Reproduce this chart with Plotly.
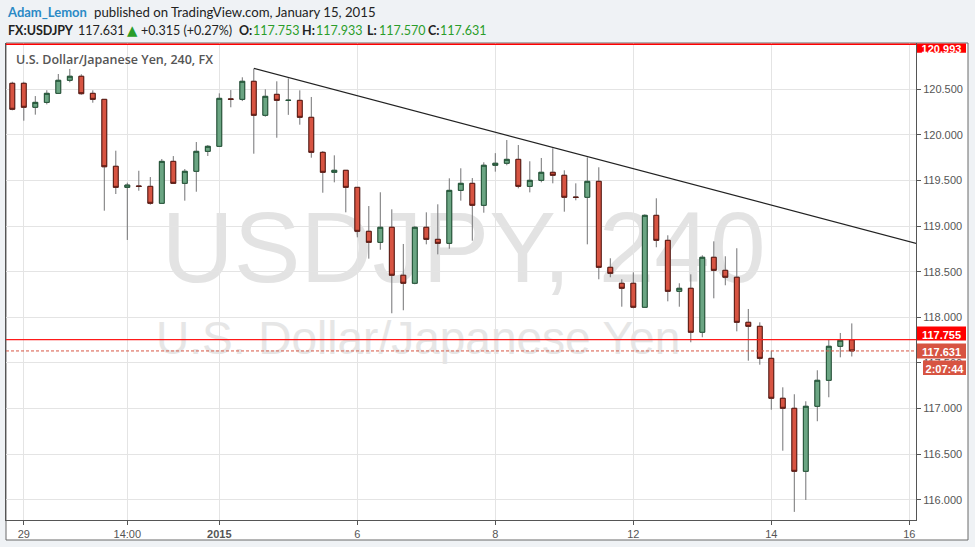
import plotly.graph_objects as go

# ---------------- data ----------------
opens = [120.566, 120.566, 120.303, 120.357, 120.456, 120.599, 120.643, 120.456, 120.390, 119.656,
         119.425, 119.440, 119.436, 119.250, 119.710, 119.469, 119.601, 119.820, 119.875, 120.395,
         120.390, 120.588, 120.215, 120.445, 120.378, 120.379, 120.193, 119.809, 119.590, 119.612,
         119.425, 118.943, 118.822, 118.987, 118.461, 118.373, 118.987, 118.855, 118.811, 119.392,
         119.469, 119.228, 119.667, 119.689, 119.732, 119.436, 119.502, 119.590, 119.557, 119.318,
         119.316, 119.491, 118.548, 118.373, 118.373, 118.110, 119.118, 118.844, 118.285, 118.318,
         117.836, 118.658, 118.515, 118.439, 117.945, 117.901, 117.550, 117.112, 117.002, 116.311,
         117.024, 117.309, 117.682, 117.753]
highs = [120.583, 120.583, 120.426, 120.490, 120.668, 120.723, 120.665, 120.489, 120.390, 119.827,
         119.476, 119.607, 119.538, 119.736, 119.768, 119.626, 119.922, 119.889, 120.456, 120.492,
         120.632, 120.723, 120.500, 120.588, 120.620, 120.489, 120.416, 119.823, 119.776, 119.612,
         119.425, 119.220, 119.371, 119.184, 118.804, 118.998, 119.151, 119.239, 119.524, 119.634,
         119.527, 119.700, 119.800, 119.944, 119.889, 119.711, 119.747, 119.853, 119.612, 119.469,
         119.754, 119.645, 118.647, 118.417, 118.493, 119.129, 119.305, 118.899, 118.373, 118.471,
         118.680, 118.833, 118.669, 118.757, 118.091, 117.945, 117.634, 117.232, 117.156, 117.079,
         117.419, 117.759, 117.828, 117.933]
lows = [120.270, 120.156, 120.222, 120.335, 120.450, 120.577, 120.441, 120.353, 119.169, 119.352,
        118.848, 119.388, 119.235, 119.250, 119.469, 119.279, 119.377, 119.769, 119.875, 120.303,
        120.371, 119.794, 120.200, 119.969, 120.220, 120.112, 119.750, 119.366, 119.480, 119.151,
        118.877, 118.643, 118.741, 118.044, 118.077, 118.362, 118.800, 118.690, 118.752, 119.279,
        118.840, 119.147, 119.597, 119.667, 119.414, 119.370, 119.480, 119.469, 119.158, 119.283,
        118.800, 118.417, 118.439, 118.116, 118.099, 118.110, 118.768, 118.175, 118.116, 117.726,
        117.781, 118.208, 118.351, 117.846, 117.524, 117.480, 116.987, 116.537, 115.866, 115.997,
        116.860, 117.123, 117.561, 117.570]
closes = [120.281, 120.303, 120.357, 120.456, 120.599, 120.643, 120.452, 120.390, 119.651, 119.425,
          119.450, 119.435, 119.250, 119.710, 119.469, 119.601, 119.820, 119.875, 120.401, 120.390,
          120.588, 120.215, 120.423, 120.379, 120.380, 120.193, 119.809, 119.590, 119.612, 119.425,
          118.943, 118.822, 118.987, 118.461, 118.373, 118.987, 118.855, 118.811, 119.392, 119.469,
          119.228, 119.667, 119.689, 119.732, 119.436, 119.502, 119.590, 119.557, 119.316, 119.315,
          119.491, 118.548, 118.482, 118.318, 118.110, 119.118, 118.844, 118.285, 118.318, 117.836,
          118.658, 118.515, 118.439, 117.945, 117.901, 117.550, 117.112, 117.002, 116.311, 117.024,
          117.309, 117.682, 117.748, 117.631]
bar_index = list(range(len(opens)))

tick_positions = [1, 10, 18, 30, 42, 54, 66, 78]
tick_labels = ["29", "14:00", "<b>2015</b>", "6", "8", "12", "14", "16"]
price_ticks = [116.0, 116.5, 117.0, 117.5, 118.0, 118.5, 119.0, 119.5, 120.0, 120.5]

trend_x = [21, 79]
trend_y = [120.730, 118.797]

high_line = 120.993
support_line = 117.755
last_close = 117.631
countdown = "2:07:44"

# ---------------- styling ----------------
UP_FILL, UP_BORDER = "#6ba583", "#225437"
DN_FILL, DN_BORDER = "#d75442", "#5b1a13"
WICK = "#737375"
GRID = "#e4e4e4"
AXIS = "#555555"
BG = "#eff2f5"
GREEN = "#2a9d2a"

W, H = 975, 547
ML, MR, MT, MB = 6, 59, 43, 27


def px(x):
    return (x - ML) / (W - ML - MR)


def py(y):
    return (H - MB - y) / (H - MT - MB)


fig = go.Figure()

body_hi = [max(o, c) for o, c in zip(opens, closes)]
body_lo = [min(o, c) for o, c in zip(opens, closes)]

# wicks
fig.add_trace(go.Candlestick(
    x=bar_index, open=opens, high=highs, low=lows, close=closes,
    increasing=dict(line=dict(color=WICK, width=1), fillcolor=WICK),
    decreasing=dict(line=dict(color=WICK, width=1), fillcolor=WICK),
    whiskerwidth=0, showlegend=False, hoverinfo="skip"))
# bodies
fig.add_trace(go.Candlestick(
    x=bar_index, open=opens, high=body_hi, low=body_lo, close=closes,
    increasing=dict(line=dict(color=UP_BORDER, width=1), fillcolor=UP_FILL),
    decreasing=dict(line=dict(color=DN_BORDER, width=1), fillcolor=DN_FILL),
    whiskerwidth=0, showlegend=False, hoverinfo="skip"))

# trend line
fig.add_trace(go.Scatter(x=trend_x, y=trend_y, mode="lines",
                         line=dict(color="#222222", width=1.2),
                         showlegend=False, hoverinfo="skip"))

shapes = []
# white chart panel
shapes.append(dict(type="rect", xref="paper", yref="paper",
                   x0=px(6), x1=px(968), y0=py(540), y1=py(43),
                   fillcolor="white", line=dict(color="#6b6b6b", width=1), layer="below"))
# watermark
shapes.append(dict(type="rect", xref="paper", yref="paper",
                   x0=px(140), x1=px(787), y0=py(256), y1=py(220),
                   line=dict(width=0), fillcolor="rgba(0,0,0,0)", layer="below",
                   label=dict(text="USDJPY, 240", textposition="middle center",
                              font=dict(size=100, color="#e3e3e3", family="Liberation Sans"))))
shapes.append(dict(type="rect", xref="paper", yref="paper",
                   x0=px(150), x1=px(760), y0=py(348), y1=py(320),
                   line=dict(width=0), fillcolor="rgba(0,0,0,0)", layer="below",
                   label=dict(text="U.S. Dollar/Japanese Yen", textposition="middle left",
                              font=dict(size=46, color="#e6e6e6", family="Liberation Sans"))))
# horizontal price lines
shapes.append(dict(type="line", xref="paper", yref="y", x0=0, x1=1,
                   y0=high_line, y1=high_line, line=dict(color="#ff0000", width=1.5)))
shapes.append(dict(type="line", xref="paper", yref="y", x0=0, x1=1,
                   y0=support_line, y1=support_line, line=dict(color="#ff1a1a", width=1.2)))
shapes.append(dict(type="line", xref="paper", yref="y", x0=0, x1=1,
                   y0=last_close, y1=last_close, line=dict(color="#d75442", width=1, dash="3px,2px")))

# price-axis boxes
lab_font = dict(size=11, color="white", family="Liberation Sans", weight="bold")
shapes.append(dict(type="rect", xref="paper", yref="paper", x0=px(917), x1=px(966),
                   y0=py(52.7), y1=py(43.5), fillcolor="#ff0000", line=dict(width=0),
                   label=dict(text=f"{high_line:.3f}", font=lab_font, textposition="middle center")))
shapes.append(dict(type="rect", xref="paper", yref="paper", x0=px(917), x1=px(966),
                   y0=py(340.5), y1=py(326.5), fillcolor="#ff0000", line=dict(width=0),
                   label=dict(text=f"{support_line:.3f}", font=lab_font, textposition="middle center")))
shapes.append(dict(type="rect", xref="paper", yref="paper", x0=px(917), x1=px(966),
                   y0=py(358.5), y1=py(343.5), fillcolor="#d75442", line=dict(width=0),
                   label=dict(text=f"{last_close:.3f}", font=lab_font, textposition="middle center")))
shapes.append(dict(type="rect", xref="paper", yref="paper", x0=px(923), x1=px(966),
                   y0=py(375), y1=py(360.5), fillcolor="#d75442", line=dict(width=0),
                   label=dict(text=countdown, font=lab_font, textposition="middle center")))

annotations = []


def note(x, y, text, size=14, color="#222222", family="Lato", weight="normal"):
    annotations.append(dict(xref="paper", yref="paper", x=px(x), y=py(y), text=text,
                            showarrow=False, xanchor="left", yanchor="middle",
                            font=dict(size=size, color=color, family=family, weight=weight)))


# header line 1
note(5, 12, "Adam_Lemon", size=13, color="#2b8ac6", weight="bold")
note(92, 12, "published on TradingView.com, January 15, 2015", size=13.2, color="#222222")
# header line 2
note(6, 30, "FX:USDJPY", size=12.5, weight="bold")
note(76, 30, "117.631", size=12.5)
note(125, 30, "▲", size=13.5, color=GREEN, family="DejaVu Sans")
note(139, 30, "+0.315 (+0.27%)", size=12.5)
note(237, 30, "O:", size=12.5, weight="bold")
note(251, 30, "117.753", size=12.5, color=GREEN)
note(300, 30, "H:", size=12.5, weight="bold")
note(314, 30, "117.933", size=12.5, color=GREEN)
note(365, 30, "L:", size=12.5, weight="bold")
note(377, 30, "117.570", size=12.5, color=GREEN)
note(426, 30, "C:", size=12.5, weight="bold")
note(438, 30, "117.631", size=12.5, color=GREEN)
# chart legend
note(14, 60, "U.S. Dollar/Japanese Yen, 240, FX", size=12.5, color="#555555",
     family="Open Sans", weight=600)

x_lo = (ML - 12.3) / 11.5
x_hi = (W - MR - 12.3) / 11.5

fig.update_layout(
    width=W, height=H,
    margin=dict(l=ML, r=MR, t=MT, b=MB, pad=0),
    paper_bgcolor=BG, plot_bgcolor="white",
    showlegend=False,
    boxgap=0.4, boxgroupgap=0.3,
    shapes=shapes, annotations=annotations,
    font=dict(family="Liberation Sans", size=11, color=AXIS),
    xaxis=dict(range=[x_lo, x_hi], tickmode="array", tickvals=tick_positions,
               ticktext=tick_labels, showgrid=True, gridcolor=GRID, gridwidth=1,
               showline=True, linecolor=AXIS, linewidth=1, ticks="outside",
               ticklen=4, tickcolor=AXIS, zeroline=False, fixedrange=True,
               rangeslider=dict(visible=False),
               tickfont=dict(family="Liberation Sans", size=11, color=AXIS)),
    yaxis=dict(range=[115.777, 121.008], side="right", tickmode="array",
               tickvals=price_ticks, ticktext=[f"{v:.3f}" for v in price_ticks],
               showgrid=True, gridcolor=GRID, gridwidth=1, showline=True,
               linecolor=AXIS, linewidth=1, mirror=True, ticks="outside", ticklen=4,
               tickcolor=AXIS, zeroline=False,
               tickfont=dict(family="Liberation Sans", size=11, color=AXIS)),
)

fig.write_html("out.html", config={"displayModeBar": False},
               post_script="document.body.style.margin='0';")
